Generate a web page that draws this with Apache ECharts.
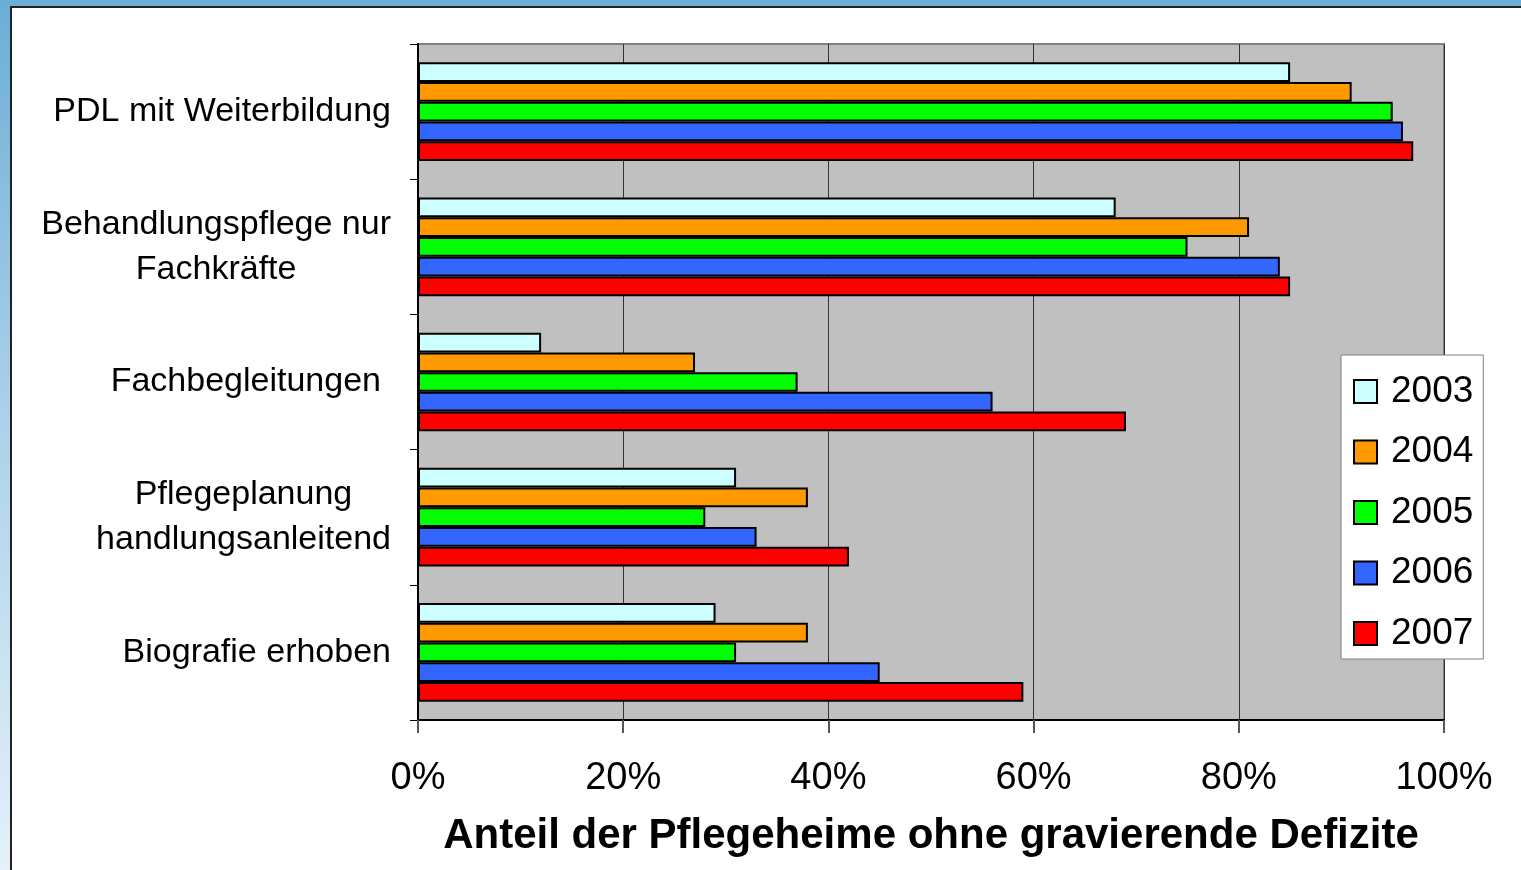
<!DOCTYPE html>
<html>
<head>
<meta charset="utf-8">
<script src="https://cdn.jsdelivr.net/npm/echarts@6/dist/echarts.min.js"></script>
<style>
  html, body { margin: 0; padding: 0; }
  body {
    width: 1521px; height: 870px; overflow: hidden; position: relative;
    background: linear-gradient(to bottom, #6aaed6 0%, #a9cfe8 45%, #e4f1f9 100%);
  }
  #frame {
    position: absolute; left: 10px; top: 6px; right: 0; bottom: 0;
    background: #fff; border-left: 2px solid #222; border-top: 2px solid #222;
  }
  #chart { position: absolute; left: 0; top: 0; width: 1521px; height: 870px; }
</style>
</head>
<body>
<div id="frame"></div>
<div id="chart"></div>
<script>
const categories = [
  'PDL mit Weiterbildung',
  'Behandlungspflege nur\nFachkräfte',
  'Fachbegleitungen',
  'Pflegeplanung\nhandlungsanleitend',
  'Biografie erhoben'
];
const years = ['2003', '2004', '2005', '2006', '2007'];
const colors = ['#CCFFFF', '#FF9900', '#00FF00', '#3366FF', '#FF0000'];
const v2003 = [85, 68, 12, 31, 29];
const v2004 = [91, 81, 27, 38, 38];
const v2005 = [95, 75, 37, 28, 31];
const v2006 = [96, 84, 56, 33, 45];
const v2007 = [97, 85, 69, 42, 59];
const xTicks = [0, 20, 40, 60, 80, 100];
const values = [v2003, v2004, v2005, v2006, v2007];

const font = '"Liberation Sans", Arial, sans-serif';

const myChart = echarts.init(document.getElementById('chart'));
myChart.setOption({
  animation: false,
  textStyle: {fontFamily: font},
  grid: {
    left: 418, top: 44, right: 77, bottom: 150,
    show: true, backgroundColor: '#C0C0C0',
    borderColor: '#808080', borderWidth: 2
  },
  legend: {
    orient: 'vertical',
    left: 1341, top: 355,
    backgroundColor: '#fff',
    borderColor: '#808080', borderWidth: 1,
    padding: [18, 10, 7, 12],
    itemWidth: 23, itemHeight: 23, itemGap: 23.5,
    icon: 'rect',
    textStyle: {fontSize: 37, color: '#000', fontFamily: font, padding: [0, 0, 0, 9]},
    data: years
  },
  xAxis: {
    type: 'value',
    min: xTicks[0], max: xTicks[xTicks.length - 1], interval: 20,
    axisLine: {show: true, lineStyle: {color: '#000', width: 2}},
    axisTick: {show: true, length: 13, lineStyle: {color: '#555', width: 2}},
    splitLine: {show: true, lineStyle: {color: '#333', width: 1}},
    axisLabel: {
      fontSize: 38, color: '#000', margin: 40,
      formatter: v => v + '%'
    },
    name: 'Anteil der Pflegeheime ohne gravierende Defizite',
    nameLocation: 'middle', nameGap: 95,
    nameTextStyle: {fontSize: 42, fontWeight: 'bold', color: '#000', fontFamily: font}
  },
  yAxis: {
    type: 'category',
    inverse: true,
    data: categories,
    axisLine: {show: true, lineStyle: {color: '#000', width: 2}},
    axisTick: {show: true, inside: false, length: 8, lineStyle: {color: '#000', width: 1}},
    axisLabel: {
      margin: 27, fontSize: 34, color: '#000', lineHeight: 45,
      // excel wrapped "Fachbegleitungen" a little narrower, so it sits further left
      formatter: (v, i) => v.split('\n').map(s => '{' + (i === 2 ? 'n' : 'c') + '|' + s + '}').join('\n'),
      rich: {
        c: {align: 'center', fontSize: 34, lineHeight: 45, color: '#000', fontFamily: font},
        n: {align: 'center', fontSize: 34, lineHeight: 45, color: '#000', fontFamily: font, padding: [0, 10, 0, 0]}
      }
    }
  },
  series: years.map((y, i) => ({
    name: y,
    type: 'bar',
    data: values[i],
    barGap: '0%',
    barCategoryGap: '27%',
    itemStyle: {color: colors[i], borderColor: '#000', borderWidth: 2}
  }))
});
</script>
</body>
</html>
